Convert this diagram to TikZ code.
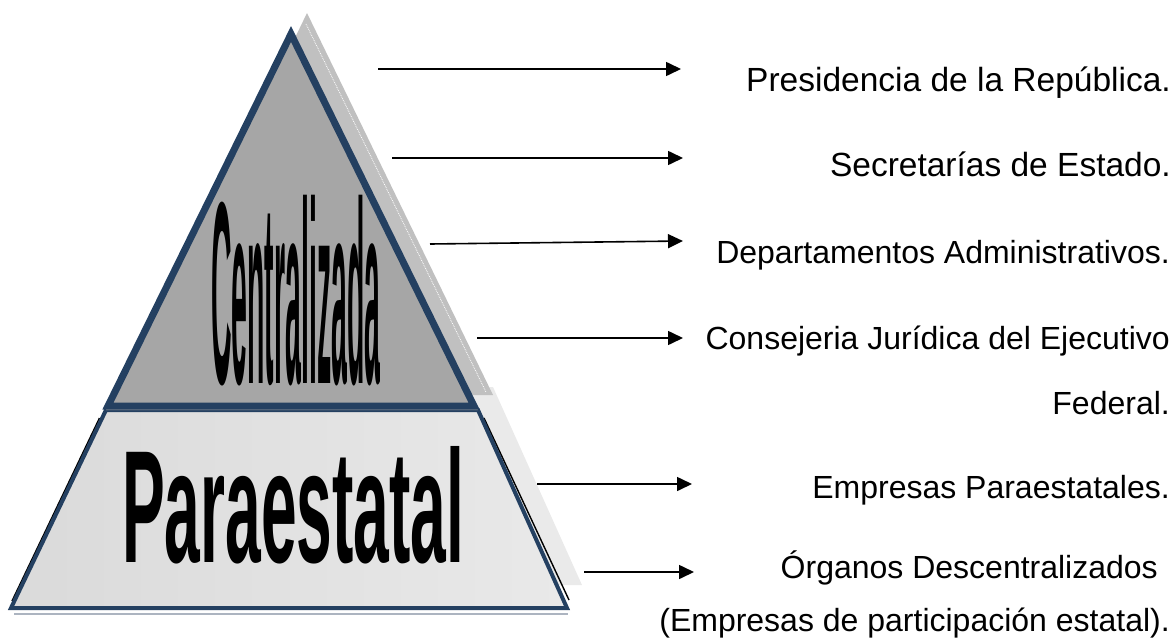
\documentclass[tikz,border=0pt]{standalone}
\usepackage{fontspec}
\setmainfont{Liberation Sans}
\usetikzlibrary{arrows.meta}
\definecolor{navy}{RGB}{36,64,97}
\definecolor{trifill}{RGB}{166,166,166}
\definecolor{trishadow}{RGB}{192,192,192}
\definecolor{trapshadow}{RGB}{234,234,234}
\definecolor{traplight}{RGB}{233,233,233}
\definecolor{trapdark}{RGB}{218,218,218}
\definecolor{reflect}{RGB}{172,180,192}
\tikzset{
  arr/.style={line width=1.6pt, -{Triangle[length=15pt,width=14pt]}},
  lbl/.style={anchor=base east, inner sep=0pt, font=\fontsize{32}{38}\selectfont},
  lblbig/.style={lbl, font=\fontsize{33.5}{40}\selectfont},
  bigword/.style={inner sep=0pt, font=\bfseries}
}
\begin{document}
\begin{tikzpicture}[x=1pt,y=-1pt]
\useasboundingbox (0,0) rectangle (1176,640);
% shadows
\fill[trapshadow] (121,387) -- (493,387) -- (582,585) -- (26,585) -- cycle;
\fill[trishadow] (307,13) -- (493,395) -- (122,395) -- cycle;
\draw[white, line width=0.8pt, densely dotted] (306,24) -- (486,392);
% reflection line
\draw[reflect, line width=2.5pt] (14,614) -- (568,614);
% trapezoid
\shade[left color=trapdark, right color=traplight] (106,410) -- (478,410) -- (567,608) -- (11,608) -- cycle;
\draw[black, line width=1.4pt] (99.5,418) -- (12,601);
\draw[black, line width=1.4pt] (484,418) -- (569,600);
\draw[navy, line width=4pt, line join=miter] (106,410) -- (478,410) -- (567,608) -- (11,608) -- cycle;
% triangle
\fill[trifill] (291,29) -- (478,410) -- (106,410) -- cycle;
\draw[navy, line width=7pt, line join=miter, miter limit=10] (291,34) -- (474,406) -- (108,406) -- cycle;
% big words
\node[bigword, anchor=south west] (cen) at (211,386) {\resizebox{169pt}{188pt}{Centralizada}};
\node[bigword, anchor=south west] (par) at (122,564) {\resizebox{342pt}{116pt}{Paraestatal}};
% labels
\node[lblbig] (t1) at (1171,91) {Presidencia de la República.};
\node[lblbig] (t2) at (1171,176) {Secretarías de Estado.};
\node[lbl] (t3) at (1170,263) {Departamentos Administrativos.};
\node[lbl] (t4) at (1170,349) {Consejeria Jurídica del Ejecutivo};
\node[lbl] (t5) at (1170,414) {Federal.};
\node[lbl] (t6) at (1170,498) {Empresas Paraestatales.};
\node[lbl] (t7) at (1158,578) {Órganos Descentralizados};
\node[lbl] (t8) at (1170,631) {(Empresas de participación estatal).};
% arrows
\coordinate (s1) at (378,69);  \coordinate (e1) at (681,69);
\coordinate (s2) at (392,158); \coordinate (e2) at (683,158);
\coordinate (s3) at (430,244); \coordinate (e3) at (683,241);
\coordinate (s4) at (477,338); \coordinate (e4) at (683,338);
\coordinate (s5) at (537,484); \coordinate (e5) at (692,484);
\coordinate (s6) at (584,572); \coordinate (e6) at (694,572);
\draw[arr] (s1) -- (e1);
\draw[arr] (s2) -- (e2);
\draw[arr] (s3) -- (e3);
\draw[arr] (s4) -- (e4);
\draw[arr] (s5) -- (e5);
\draw[arr] (s6) -- (e6);
\end{tikzpicture}
\end{document}
